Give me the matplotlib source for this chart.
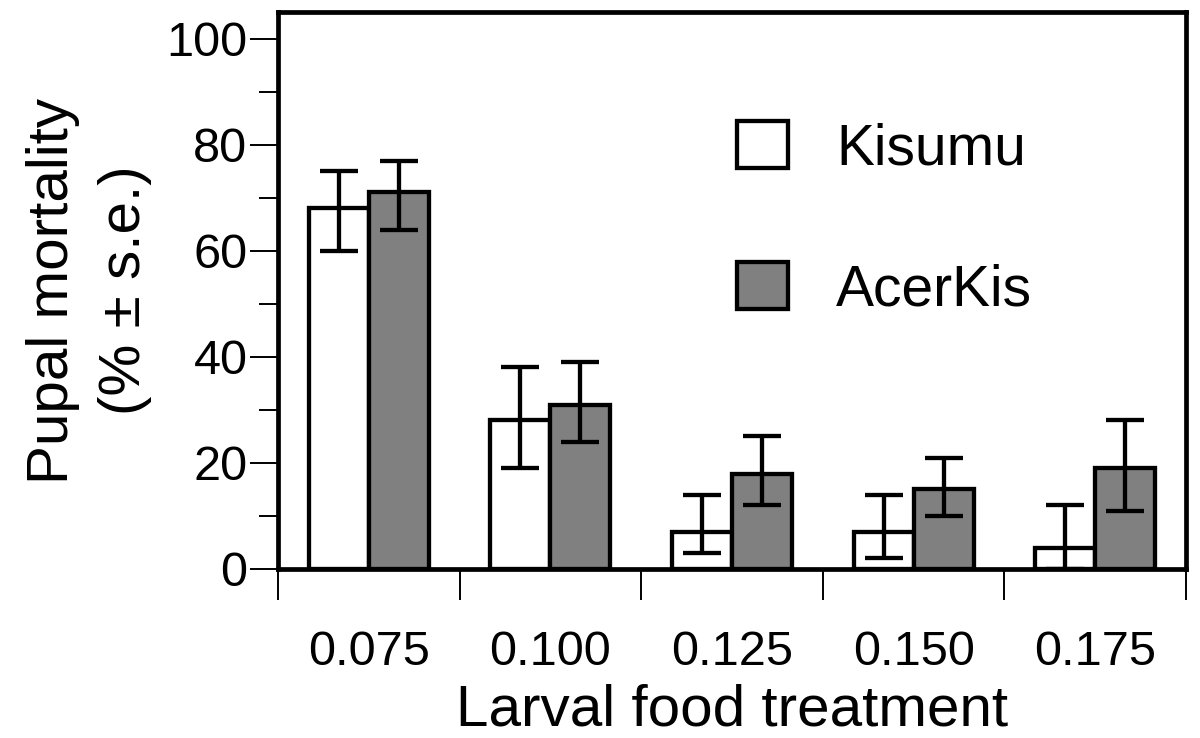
import numpy as np
import matplotlib.pyplot as plt
from matplotlib.patches import Patch

plt.rcParams['font.family'] = ['Liberation Sans', 'DejaVu Sans']

# larval food treatments
treatments = ["0.075", "0.100", "0.125", "0.150", "0.175"]

# pupal mortality (%) and s.e. limits
kisumu = [68, 28, 7, 7, 4]
kisumu_lo = [60, 19, 3, 2, 0]
kisumu_hi = [75, 38, 14, 14, 12]

acerkis = [71, 31, 18, 15, 19]
acerkis_lo = [64, 24, 12, 10, 11]
acerkis_hi = [77, 39, 25, 21, 28]

fig = plt.figure(figsize=(12, 7.38), dpi=100)
ax = fig.add_axes([0.2317, 0.229, 0.7566, 0.7547])

x = np.arange(len(treatments))
w = 0.33
lw = 3.1

k_err = [np.array(kisumu) - np.array(kisumu_lo), np.array(kisumu_hi) - np.array(kisumu)]
a_err = [np.array(acerkis) - np.array(acerkis_lo), np.array(acerkis_hi) - np.array(acerkis)]

ax.bar(x - w / 2, kisumu, w, color="white", edgecolor="black", linewidth=lw, zorder=2)
ax.bar(x + w / 2, acerkis, w, color="#808080", edgecolor="black", linewidth=lw, zorder=2)
ax.errorbar(x - w / 2, kisumu, yerr=k_err, fmt="none", ecolor="black",
            elinewidth=lw, capsize=14, capthick=lw, zorder=3)
ax.errorbar(x + w / 2, acerkis, yerr=a_err, fmt="none", ecolor="black",
            elinewidth=lw, capsize=14, capthick=lw, zorder=3)

ax.set_xlim(-0.5, 4.5)
ax.set_ylim(0, 105)

for s in ax.spines.values():
    s.set_linewidth(3.4)

# y ticks
ax.set_yticks([0, 20, 40, 60, 80, 100])
ax.set_yticks([10, 30, 50, 70, 90], minor=True)
ax.tick_params(axis="y", which="major", length=20, width=1.4, labelsize=35, pad=2)
ax.tick_params(axis="y", which="minor", length=14, width=1.4)

# x ticks: marks between groups, labels at centres
ax.set_xticks(np.arange(-0.5, 5, 1))
ax.set_xticklabels([])
ax.set_xticks(x, minor=True)
ax.set_xticklabels(treatments, minor=True)
ax.tick_params(axis="x", which="major", length=22, width=1.4)
ax.tick_params(axis="x", which="minor", length=0, labelsize=35, pad=44)

ax.set_xlabel("Larval food treatment", fontsize=42, labelpad=6)
ax.set_ylabel("Pupal mortality\n(% ± s.e.)", fontsize=42, linespacing=1.45, labelpad=10)

handles = [Patch(facecolor="white", edgecolor="black", linewidth=lw, label="Kisumu"),
           Patch(facecolor="#808080", edgecolor="black", linewidth=lw, label="AcerKis")]
ax.legend(handles=handles, loc="upper left", bbox_to_anchor=(0.48, 0.845), frameon=False,
          fontsize=41, handlelength=0.9, handleheight=0.9, handletextpad=0.85,
          labelspacing=1.5, borderaxespad=0)

fig.savefig("out.png", dpi=100)
